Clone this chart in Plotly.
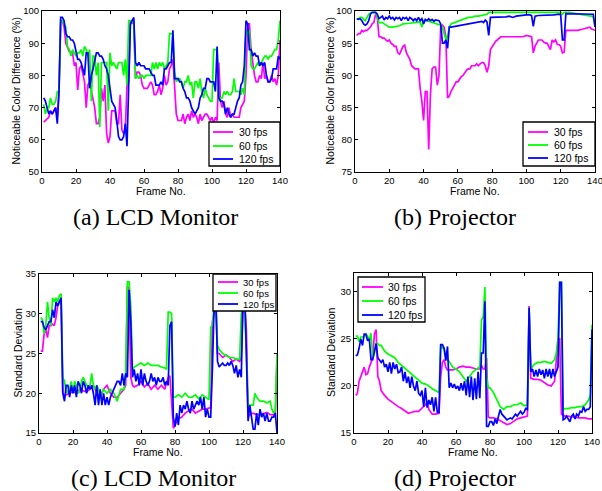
import plotly.graph_objects as go

# ---------------- data (frame, value) ----------------
A30 = [(1,65.5),(2,66),(3,66.5),(4,67),(5,69),(6,68),(7,69),(8,70),(9,67),(10,75),(11,97),(12,97),(13,95),(14,90),
       (16,87.5),(18,87),(19,83),(20,84),(21,75.5),(22,82),(23,83),(24,80),(25,78),(26,70),(27,77),(28,78),(29,75),
       (30,72),(31,70),(32,65),(33,65),(34,67),(35,76),(36,72),(37,77),(38,62),(39,59),(40,61),(41,69),(42,69),(43,69),
       (44,65),(45,65),(46,74),(47,63),(48,62),(49,63),(50,77),(51,78),(52,97),(53,96),(54,97),(55,79),(56,81),(57,81),
       (58,80),(59,77),(60,76),(62,76),(63,77),(64,78),(65,77),(66,74),(67,74),(68,75),(69,77),(70,74),(71,76),(72,80),
       (73,77),(74,78),(75,82),(76,83),(77,85),(78,78),(79,68),(80,66),(82,66),(83,68),(84,65),(85,67),(86,68),(87,66),
       (88,69),(89,67),(90,68),(91,67),(92,65),(93,68),(94,66),(95,67),(96,68),(97,68),(98,67),(99,66),(100,67),
       (101,65),(102,67),(103,66),(104,84),(105,72),(106,70),(107,72),(108,68),(109,67),(110,70),(111,67),(112,68),
       (113,67),(114,67),(115,67),(116,67),(117,70),(118,71),(119,72),(120,80),(121,96),(122,96),(123,88),(124,84),
       (125,80),(126,78),(127,78),(128,80),(129,79),(130,84),(131,79),(132,80),(133,78),(134,78),(135,80),(136,78),
       (137,79),(138,77),(139,80),(140,91)]
A60 = [(1,71),(2,68),(3,70),(4,70),(5,73),(6,71),(7,71),(8,72),(9,75),(10,75),(11,97),(12,97),(13,96),(14,95),(15,89),
       (16,88),(17,86),(18,88),(19,87),(20,86),(21,87),(22,87),(23,88),(24,86),(25,89),(26,88),(27,86),(28,88),(29,72),
       (30,86),(31,86),(32,80),(33,84),(34,64),(35,84),(36,84),(37,84),(38,84),(39,69),(40,87),(41,83),(42,84),(43,83),
       (44,82),(45,84),(46,84),(47,84),(48,80),(49,85),(50,77),(51,97),(52,97),(53,97),(54,96),(55,79),(56,80),(57,79),
       (58,80),(59,80),(60,79),(61,80),(62,80),(63,80),(64,80),(65,84),(66,82),(67,84),(68,82),(69,84),(70,83),(71,84),
       (72,82),(73,83),(74,84),(75,93),(76,93),(77,93),(78,81),(79,78),(80,79),(81,79),(82,78),(83,76),(84,78),(85,78),
       (86,80),(87,77),(88,78),(89,73),(90,78),(91,78),(92,76),(93,79),(94,75),(95,73),(96,76),(97,74),(98,73),(99,72),
       (100,72),(101,88),(102,88),(103,88),(104,72),(105,73),(106,73),(107,75),(108,74),(109,75),(110,74),(111,74),
       (112,75),(113,79),(114,75),(115,75),(116,75),(117,74),(118,76),(119,74),(120,94),(121,93),(122,94),(123,83),
       (124,82),(125,82),(126,83),(127,84),(128,83),(129,84),(130,85),(131,86),(132,86),(133,85),(134,86),(135,86),
       (136,87),(137,88),(138,88),(139,91),(140,97)]
A120 = [(1,73),(2,72),(3,70),(4,68),(5,69),(6,68),(7,69),(8,70),(9,65),(10,75),(11,98),(12,98),(13,97),(14,93),(15,92),
        (16,92),(17,91),(18,91),(19,90),(20,87),(21,85),(22,85),(23,84),(24,82),(25,80),(26,87),(27,87),(28,76),(29,80),
        (30,82),(31,85),(32,87),(33,87),(34,86),(35,86),(36,85),(37,83),(38,82),(39,80),(40,76),(41,72),(42,71),(43,70),
        (44,66),(45,61),(46,60),(47,60),(48,61),(49,65),(50,58),(51,82),(52,96),(53,97),(54,98),(55,84),(56,83),(57,84),
        (58,83),(59,83),(60,83),(61,82),(62,82),(63,82),(64,81),(65,80),(66,80),(67,77),(68,77),(69,77),(70,78),(71,77),
        (72,82),(73,82),(74,83),(75,84),(76,84),(77,94),(78,79),(79,79),(80,79),(81,78),(82,78),(83,76),(84,75),(85,73),
        (86,73),(87,72),(88,70),(89,69),(90,68),(91,69),(92,70),(93,73),(94,74),(95,76),(96,76),(97,79),(98,79),(99,78),
        (100,78),(101,78),(102,75),(103,89),(104,73),(105,72),(106,72),(107,71),(108,68),(109,70),(110,68),(111,67),
        (112,68),(113,68),(114,70),(115,72),(116,73),(117,77),(118,78),(119,83),(120,97),(121,96),(122,88),(123,88),
        (124,86),(125,87),(126,86),(127,86),(128,83),(129,84),(130,83),(131,84),(132,80),(133,78),(134,78),(135,79),
        (136,82),(137,82),(138,82),(139,86),(140,85)]

B30 = [(1,96.2),(2,96.5),(3,96.5),(4,97),(5,96.8),(6,97),(7,97),(8,97.2),(9,97.5),(10,98),(11,98.2),(12,99.5),(13,99),
       (14,96),(15,96),(16,95.8),(17,95.8),(18,95.5),(19,95.3),(20,95.5),(21,95),(22,94.8),(23,94.5),(24,94.5),(25,93.5),
       (26,93.3),(27,93.8),(28,94.5),(29,94.7),(30,93.5),(31,93),(32,92.5),(33,91.5),(34,91.2),(35,91),(36,91),(37,91),
       (38,88),(39,86),(40,83),(41,87.5),(42,87.5),(43,78.5),(44,87),(45,91),(46,91.3),(47,91.3),(48,88.5),(49,90),
       (50,97.5),(51,97.8),(52,97.5),(53,96),(54,86.5),(55,86.8),(56,87.5),(57,88),(58,88.5),(59,89),(60,89),(61,89.5),
       (62,89.8),(63,90),(64,90.5),(65,90.8),(66,91),(67,91),(68,91.5),(69,91.5),(70,91.5),(71,91.8),(72,91.5),(73,91.8),
       (74,92),(75,92),(76,91.5),(77,90.5),(78,91.5),(79,94),(80,94.5),(81,95),(82,95.3),(83,95.5),(84,95.8),(85,96),
       (86,96),(88,96),(90,96),(92,96),(95,96.1),(98,96),(100,96.2),(102,96),(103,96),(104,93.5),(105,94.5),(106,95),
       (107,95.5),(108,95.5),(109,95.5),(110,95.2),(111,95),(112,95),(113,94.5),(114,94),(115,95.5),(116,95.2),
       (117,95.5),(118,94.8),(119,94.8),(120,94.5),(121,93.5),(122,93.6),(123,97),(125,97),(128,97),(130,97),
       (133,97.2),(135,97.3),(137,97.5),(138,97.2),(140,97)]
B60 = [(1,98.8),(2,98.8),(3,99),(4,99),(5,98.7),(6,98.5),(7,99),(8,99.5),(9,99.7),(10,99.8),(11,99.8),(12,99.8),(13,99),
       (14,98.2),(15,98.2),(16,98.2),(17,98),(18,97.8),(19,97.6),(20,97.5),(22,97.5),(24,97.6),(26,97.7),(28,98),(30,98),
       (32,98.1),(34,98.2),(36,98.2),(38,98.3),(39,97.5),(40,98.5),(42,98.5),(44,98.3),(46,98.2),(48,98),(50,97.8),
       (51,97.5),(52,96.5),(53,95.5),(54,96),(55,97.5),(56,98),(58,98.2),(60,98.5),(62,98.7),(64,98.8),(66,99),(68,99),
       (70,99.2),(72,99.2),(74,99.3),(76,99.5),(77,99.5),(78,99.8),(80,99.8),(85,99.8),(90,99.9),(95,99.9),(100,99.9),
       (103,99.9),(104,99.8),(105,99.9),(110,99.9),(115,99.8),(120,99.8),(121,99.5),(122,99.8),(125,99.8),(130,99.5),
       (135,99.3),(138,99.2),(139,99),(140,97.8)]
B120 = [(1,98.8),(2,98.7),(3,98.8),(4,98.5),(5,98),(6,97.8),(7,98),(8,98.5),(9,99.5),(10,99.8),(11,99.8),(12,99.8),
        (13,99.5),(14,98.8),(15,99),(16,99.2),(17,98.6),(18,99),(19,98.8),(20,99.2),(21,98.8),(22,99),(23,98.6),(24,99),
        (25,98.8),(26,99),(27,98.5),(28,99),(29,98.8),(30,99),(31,98.5),(32,99),(33,98.8),(34,98.5),(35,98.8),(36,98.5),
        (37,99),(38,98.5),(39,98.8),(40,98),(41,98.7),(42,98.5),(43,98.8),(44,98.5),(45,98.7),(46,98.4),(47,98.6),
        (48,98.5),(49,98.5),(50,98),(51,95),(52,95),(53,95.5),(54,94.2),(55,97.5),(56,97.5),(58,97.6),(60,97.7),
        (62,97.8),(64,97.8),(66,97.9),(68,98),(70,98.1),(72,98.2),(74,98.4),(75,98.2),(76,98.6),(77,98.3),(78,96.2),
        (79,99),(80,99),(82,99),(84,99.1),(86,99),(88,99.1),(90,99.2),(92,99),(94,99.2),(96,99.3),(98,99.3),(100,99.4),
        (102,99.4),(103,99.3),(104,97.6),(105,99.2),(107,99.3),(110,99.3),(113,99.4),(116,99.4),(119,99.5),(120,99.4),
        (121,95.5),(122,95.5),(123,99.6),(125,99.6),(130,99.6),(135,99.6),(138,99.6),(139,99.5),(140,97.5)]

C30 = [(1,25.3),(2,25.3),(3,27.5),(4,28),(5,27),(6,28.5),(7,28.5),(8,28.7),(9,28.5),(10,29.5),(11,31),(12,31.5),
       (13,31.5),(14,20),(15,19.7),(16,19.8),(17,19.8),(18,20),(20,20.2),(22,20),(24,20.5),(26,20.3),(28,20.2),
       (30,20.5),(32,21),(34,20),(36,19.5),(38,20.5),(40,21),(42,20),(44,19.5),(46,19.5),(48,20),(50,20.5),(51,21),
       (52,33.5),(53,33),(54,22),(55,21),(56,20.8),(58,21),(60,21.5),(62,20.8),(64,21.2),(66,20.5),(68,21),(70,20.5),
       (72,21),(74,20.5),(76,22),(77,22.2),(78,18),(79,15.6),(80,16),(82,16.8),(84,17),(86,17.5),(88,17.8),(90,18),
       (92,17.5),(94,17.8),(96,18),(98,18),(100,18.2),(101,18.2),(102,29),(103,30),(104,31),(105,25),(106,25),
       (108,24.5),(110,24.8),(112,24.5),(114,24),(116,24.3),(118,24),(119,24.5),(120,30),(121,31),(122,28),(123,17),
       (124,17.3),(126,17.5),(128,17.3),(130,17.3),(132,17.5),(134,17.6),(136,17.3),(138,17.3),(139,17.2),(140,24.5)]
C60 = [(1,29.5),(2,29.3),(3,27.5),(4,28.5),(5,31.5),(6,29.5),(7,28.5),(8,32),(9,31.5),(10,32),(11,31.5),(12,32.3),
       (13,32.5),(14,22),(15,21.5),(16,20),(18,20.5),(19,21.5),(20,20),(21,21.5),(22,21),(23,20),(24,20.2),(25,21.5),
       (26,22),(27,21.5),(28,21),(29,20.8),(30,21),(31,22.5),(32,21),(33,20.5),(34,21),(35,20.5),(36,19.5),(38,20.5),
       (40,20),(42,20.5),(44,20),(46,19),(48,20.5),(50,20.5),(51,22.5),(52,34),(53,34),(54,31),(55,23),(56,23.3),
       (58,23.5),(60,23.8),(62,23.5),(64,23.8),(66,23.5),(68,23.5),(70,23.5),(72,23.3),(74,23.2),(75,23),(76,30.2),
       (77,30.2),(78,30),(79,19.5),(80,19.5),(82,19.8),(84,19.5),(86,20),(88,19.5),(90,19.5),(92,19.8),(94,19.3),
       (96,19.8),(98,19.5),(100,19.2),(101,28.3),(102,28.5),(103,31),(104,32.5),(105,26),(106,25.5),(108,25),
       (110,24.8),(112,24.5),(114,24.5),(116,24.3),(118,24.3),(119,30),(120,31),(121,30.5),(122,25),(123,18.5),
       (124,18.5),(126,18.5),(127,20),(128,19.5),(130,19),(132,19),(134,18.8),(136,19),(137,18),(138,17.5),
       (139,17.8),(140,25)]
C120 = [(1,29),(2,29),(3,28.3),(4,28),(5,28.5),(6,29),(7,29),(8,30.5),(9,29.5),(10,31.5),(11,31),(12,31.5),(13,32),
        (14,20),(15,19),(16,21),(17,21),(18,19.5),(19,21),(20,20),(21,21),(22,19.5),(23,21.5),(24,21),(25,20),(26,21.5),
        (27,21),(28,20),(29,21),(30,20.5),(31,21),(32,20),(33,18.5),(34,21),(35,18.5),(36,20.5),(37,18.5),(38,20),
        (39,18.5),(40,19.5),(41,18.5),(42,19.5),(43,20),(44,20.5),(45,21),(46,21.5),(47,21.5),(48,21),(49,22.5),(50,21),
        (51,22.5),(52,22),(53,33),(54,29),(55,22),(56,23),(57,21.5),(58,22.5),(59,21),(60,23),(61,21),(62,22.5),
        (63,21.5),(64,21),(65,21.5),(66,22.5),(67,21.5),(68,22),(69,21),(70,22),(71,21.5),(72,21.5),(73,22),(74,21),
        (75,21.5),(76,21),(77,28.5),(78,29),(79,17),(80,15.8),(81,17.5),(82,16),(83,18.5),(84,17.5),(85,18.5),(86,18),
        (87,19),(88,18),(89,17.5),(90,19),(91,18),(92,18.5),(93,19),(94,18.5),(95,19.5),(96,18),(97,19.5),(98,17),
        (99,18),(100,17),(101,17),(102,23),(103,31),(104,32),(105,24),(106,23.3),(107,23.5),(108,23.8),(109,23.5),
        (110,23.5),(111,23.8),(112,23.5),(113,24),(114,23.5),(115,22.5),(116,23.5),(117,22),(118,23),(119,22),
        (120,33),(121,33),(122,25),(123,16.5),(124,18.5),(125,17),(126,15.5),(127,15.5),(128,17.5),(129,16),(130,18),
        (131,17),(132,17.5),(133,16.5),(134,17.5),(135,16.5),(136,16.5),(137,17),(138,17),(139,17.5),(140,15)]

D30 = [(1,19),(2,19.2),(3,20.5),(4,21),(5,21.5),(6,22),(7,21.2),(8,21.3),(9,22),(10,22.5),(11,23),(12,25.5),(13,26),
       (14,21),(15,20.5),(16,19.5),(17,19.2),(18,19),(20,18.6),(22,18.3),(24,18),(26,17.8),(28,17.6),(30,17.3),
       (32,17.1),(34,17.2),(36,17.3),(38,17.3),(40,17.6),(42,18),(43,18.3),(44,17.5),(46,17),(48,17),(50,17.1),(51,21),
       (52,22.5),(53,22.8),(54,22),(55,21.7),(56,21.7),(58,21.7),(60,21.8),(62,22),(64,22.1),(66,22),(68,22),(70,21.9),
       (72,21.8),(74,21.8),(75,22.2),(76,21.8),(77,21.8),(78,23),(79,16.7),(80,16.6),(82,16.6),(84,16.5),(86,16.3),
       (88,16.1),(90,15.9),(92,16),(94,16.3),(96,16.5),(98,16.6),(100,16.7),(102,16.8),(103,28.5),(104,20.8),
       (106,20.7),(108,20.7),(110,20.6),(112,20.3),(114,20.1),(116,20),(118,20.5),(120,25),(121,25),(122,17),
       (124,16.8),(126,16.8),(128,16.7),(130,16.7),(132,16.6),(134,16.6),(136,16.6),(138,16.5),(140,16.5)]
D60 = [(1,25.3),(2,25.3),(3,24.7),(4,25.2),(5,25.2),(6,25.3),(7,25.5),(8,25.3),(9,24.8),(10,25.6),(11,23),(12,23.5),
       (13,24.5),(14,24.5),(15,24.3),(16,24.3),(17,24),(18,23.7),(20,23.4),(22,23.2),(24,23),(26,22.5),(28,22.2),
       (30,21.8),(32,21.5),(34,21.2),(36,21),(38,20.7),(40,20.3),(42,20.2),(44,20),(46,19.7),(48,19.5),(50,19.3),
       (51,24.3),(52,24),(53,24),(54,23),(55,22.8),(56,22.6),(58,22),(60,21.8),(62,21.5),(64,21),(66,20.5),(68,21),
       (70,21.5),(72,21.8),(74,22),(75,27),(76,27.3),(77,30.5),(78,21),(79,19.8),(80,19.8),(82,19.3),(84,18.5),
       (86,17.8),(88,17.5),(90,17.8),(92,17.8),(94,18),(96,18),(98,18.2),(100,17.9),(102,18),(103,28.2),(104,21.8),
       (106,22.3),(108,22.5),(110,22.5),(112,22.6),(114,22.5),(116,22.4),(118,22.8),(119,23.5),(120,25),(121,31),
       (122,31),(123,17.5),(124,17.6),(126,17.6),(128,17.7),(130,17.7),(132,17.8),(134,17.8),(136,18),(138,18.5),
       (139,19),(140,26.5)]
D120 = [(1,23.2),(2,23.3),(3,24),(4,25),(5,24.3),(6,25.5),(7,25.5),(8,24.8),(9,25),(10,22.8),(11,22.8),(12,23.5),
        (13,24.5),(14,23),(15,22.8),(16,22.5),(17,22.8),(18,22),(19,22.3),(20,21.5),(21,22.5),(22,21.3),(23,22.5),
        (24,21.8),(25,22.3),(26,21.4),(27,21.5),(28,22),(29,20.5),(30,21.5),(31,20.3),(32,21),(33,19.8),(34,21),(35,20),
        (36,19.5),(37,20.5),(38,19.2),(39,19),(40,19.5),(41,17.8),(42,19.8),(43,17.7),(44,18.5),(45,18),(46,18.8),
        (47,17.3),(48,18.8),(49,17.2),(50,17.2),(51,24.4),(52,24.4),(53,24),(54,22.7),(55,24.2),(56,19.8),(57,20.3),
        (58,19.8),(59,20.2),(60,19.7),(61,20),(62,19.5),(63,20.3),(64,19.5),(65,20.5),(66,19),(67,21),(68,18.8),(69,21),
        (70,18.5),(71,20.8),(72,18.6),(73,21.5),(74,18.7),(75,23.5),(76,23.5),(77,29),(78,15.7),(79,15.7),(80,16.2),
        (81,16.2),(82,15.8),(83,16.5),(84,16),(85,16.8),(86,17.5),(87,17),(88,16.8),(89,16.5),(90,16.4),(91,16.5),
        (92,16.6),(93,16.5),(94,16.8),(95,17),(96,16.8),(97,17),(98,17.3),(99,17),(100,17.2),(101,17.6),(102,17.5),
        (103,28.3),(104,21.5),(105,21.8),(106,21),(107,21.7),(108,21),(109,21.8),(110,21.2),(111,21.7),(112,20.8),
        (113,21.8),(114,21),(115,21.8),(116,20.8),(117,21.8),(118,21),(119,21.5),(120,22),(121,31),(122,31),(123,16.4),
        (124,16.5),(125,16.8),(126,16.5),(127,16.2),(128,16.8),(129,17),(130,16.5),(131,17),(132,16.8),(133,17.3),
        (134,17.2),(135,17.8),(136,17.3),(137,17.5),(138,17.5),(139,17.8),(140,26)]

SERIES_NAMES = ["30 fps", "60 fps", "120 fps"]
COLORS = ["#ff00ff", "#00ff00", "#0000ff"]
CAPTIONS = ["(a) LCD Monitor", "(b) Projector", "(c) LCD Monitor", "(d) Projector"]
X_TITLE = "Frame No."
Y_TITLES = ["Noticeable Color Difference (%)", "Noticeable Color Difference (%)",
            "Standard Deviation", "Standard Deviation"]
Y_RANGES = [[50, 100], [75, 100], [15, 35], [15, 32]]
Y_TICKS = [[50, 60, 70, 80, 90, 100], [75, 80, 85, 90, 95, 100], [15, 20, 25, 30, 35], [15, 20, 25, 30]]
X_TICKS = [0, 20, 40, 60, 80, 100, 120, 140]

panels = [[A30, A60, A120], [B30, B60, B120], [C30, C60, C120], [D30, D60, D120]]

W, H = 602, 491
# plot-area pixel boxes (left, right, top, bottom)
boxes = [(42, 280, 11, 172), (355, 595, 11, 172), (39, 277, 274, 433), (354, 592, 273, 433)]
# legend boxes (left, right, top, bottom), line start/end x, text x, row ys, font size
legends = [
    dict(box=(209, 280, 122, 166), lx=(213, 233), tx=237, rows=(132, 146, 159), fs=10.5),
    dict(box=(523, 595, 122, 166), lx=(528, 548), tx=552, rows=(132, 145, 158), fs=10.5),
    dict(box=(213, 276, 274, 311), lx=(218, 238), tx=241, rows=(282, 293, 304), fs=9.5),
    dict(box=(358, 425, 277, 322), lx=(362, 383), tx=386, rows=(287, 301, 315), fs=10.5),
]
ytitle_x = [15, 329, 17, 331]
xtitle_y = [191, 191, 452, 452]
cap_pos = [(155, 217), (455, 217), (153, 478), (455, 478)]

SANS = "Liberation Sans, Arial, sans-serif"
SERIF = "Liberation Serif, Times New Roman, serif"
tickfont = dict(family=SANS, size=9.5, color="black")
titlefont = dict(family=SANS, size=10.5, color="black")

def px(x):
    return x / W

def py(y):
    return 1 - y / H

fig = go.Figure()

for p, series in enumerate(panels):
    xa = "x" if p == 0 else f"x{p+1}"
    ya = "y" if p == 0 else f"y{p+1}"
    for s, data in enumerate(series):
        fig.add_trace(go.Scatter(x=[d[0] for d in data], y=[d[1] for d in data], mode="lines",
                                 name=SERIES_NAMES[s], line=dict(color=COLORS[s], width=1.7),
                                 xaxis=xa, yaxis=ya, showlegend=False, hoverinfo="skip"))
    l, r, t, b = boxes[p]
    xkey = "xaxis" if p == 0 else f"xaxis{p+1}"
    ykey = "yaxis" if p == 0 else f"yaxis{p+1}"
    common = dict(showline=True, linecolor="black", linewidth=1, mirror="ticks", ticks="inside",
                  ticklen=3, tickcolor="black", showgrid=False, zeroline=False, tickfont=tickfont,
                  ticklabeloverflow="allow", automargin=False, fixedrange=True)
    fig.update_layout(**{
        xkey: dict(domain=[px(l), px(r)], range=[0, 140], tickvals=X_TICKS, anchor=ya, **common),
        ykey: dict(domain=[py(b), py(t)], range=Y_RANGES[p], tickvals=Y_TICKS[p], anchor=xa, **common),
    })
    # axis titles
    fig.add_annotation(text=X_TITLE, x=px((l + r) / 2), y=py(xtitle_y[p]), xref="paper", yref="paper",
                       showarrow=False, xanchor="center", yanchor="middle", font=titlefont)
    fig.add_annotation(text=Y_TITLES[p], x=px(ytitle_x[p]), y=py((t + b) / 2), xref="paper", yref="paper",
                       showarrow=False, xanchor="center", yanchor="middle", textangle=-90, font=titlefont)
    # legend box (drawn above the lines, opaque)
    lg = legends[p]
    bl, br, bt, bb = lg["box"]
    fig.add_shape(type="rect", xref="paper", yref="paper", x0=px(bl), x1=px(br), y0=py(bb), y1=py(bt),
                  fillcolor="white", line=dict(color="black", width=1.3), layer="above")
    for s in range(3):
        ry = lg["rows"][s]
        fig.add_shape(type="line", xref="paper", yref="paper", x0=px(lg["lx"][0]), x1=px(lg["lx"][1]),
                      y0=py(ry), y1=py(ry), line=dict(color=COLORS[s], width=1.8), layer="above")
        fig.add_annotation(text=SERIES_NAMES[s], x=px(lg["tx"]), y=py(ry), xref="paper", yref="paper",
                           showarrow=False, xanchor="left", yanchor="middle",
                           font=dict(family=SANS, size=lg["fs"], color="black"))

for p, (cx, cy) in enumerate(cap_pos):
    fig.add_annotation(text=CAPTIONS[p], x=px(cx), y=py(cy), xref="paper", yref="paper",
                       showarrow=False, xanchor="center", yanchor="middle",
                       font=dict(family=SERIF, size=24, color="black"))

fig.update_layout(width=W, height=H, margin=dict(l=0, r=0, t=0, b=0, pad=0),
                  paper_bgcolor="white", plot_bgcolor="white", showlegend=False, hovermode=False)

# remove the browser's default 8px page margin so the figure fills the window exactly
fig.write_html("out.html", config={"displayModeBar": False, "staticPlot": True},
               post_script="document.body.style.margin='0';document.body.style.overflow='hidden';")
